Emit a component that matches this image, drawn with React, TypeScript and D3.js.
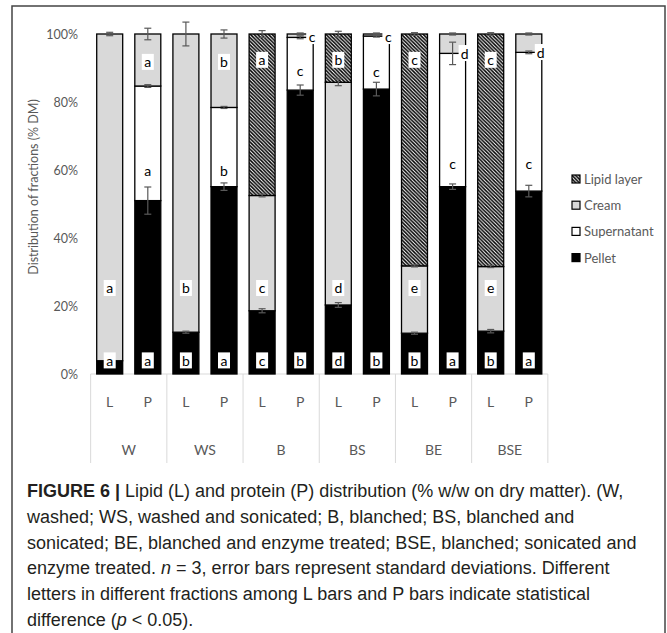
import * as d3 from 'd3';
import React from 'react';

// categories
const groups = ['W', 'WS', 'B', 'BS', 'BE', 'BSE'];
const kinds = ['L', 'P'];
const bars = groups.flatMap((g) => kinds.map((k) => `${g}|${k}`));
const fractions = ['Pellet', 'Supernatant', 'Cream', 'Lipid layer'];

// segment sizes (% DM), one per bar: W-L, W-P, WS-L, WS-P, ...
const pellet = [3.9, 51.0, 12.3, 55.1, 18.6, 83.5, 20.3, 83.8, 12.0, 55.1, 12.6, 53.8];
const supernatant = [0, 33.7, 0, 23.3, 0, 15.5, 0, 15.6, 0, 39.2, 0, 40.8];
const cream = [96.1, 15.3, 87.7, 21.6, 33.9, 1.0, 65.5, 0.6, 19.8, 5.7, 19.0, 5.4];
const lipid = [0, 0, 0, 0, 47.5, 0, 14.2, 0, 68.2, 0, 68.4, 0];

// standard deviations (drawn at the top of each segment)
const pelletSd = [0.3, 4.0, 0.3, 1.1, 0.6, 1.5, 0.7, 2.0, 0.3, 0.8, 0.5, 1.7];
const supernatantSd = [0, 0.4, 0, 0.3, 0, 0.4, 0, 0.3, 0, 3.3, 0, 0.4];
const creamSd = [0.5, 1.7, 3.5, 1.2, 0.4, 0.3, 1.0, 0.3, 0.3, 0.3, 0.3, 0.3];
const lipidSd = [0, 0, 0, 0, 1.0, 0, 0.8, 0, 0.4, 0, 0.4, 0];

// significance letters and where they sit (in % DM)
const letterPellet = ['a', 'a', 'b', 'a', 'c', 'b', 'd', 'b', 'b', 'a', 'b', 'a'];
const letterSuper = ['', 'a', '', 'b', '', 'c', '', 'c', '', 'c', '', 'c'];
const letterCream = ['a', 'a', 'b', 'b', 'c', 'c', 'd', 'c', 'e', 'd', 'e', 'd'];
const letterLipid = ['', '', '', '', 'a', '', 'b', '', 'c', '', 'c', ''];
const atPellet = [4, 4, 4, 4, 4, 4, 4, 4, 4, 4, 4, 4];
const atSuper = [0, 60, 0, 60, 0, 89.4, 0, 89.1, 0, 62, 0, 62];
const atCream = [25.3, 91.8, 25.3, 91.8, 25.3, 99.4, 25.3, 99.4, 25.3, 94.4, 25.3, 94.7];
const atLipid = [0, 0, 0, 0, 92.4, 0, 92.4, 0, 92.4, 0, 92.4, 0];
const creamOutside = [false, false, false, false, false, true, false, true, false, true, false, true];

const yTicks = [0, 20, 40, 60, 80, 100];

const captionLines = [
  [{ t: 'FIGURE 6 |', b: true }, { t: ' Lipid (L) and protein (P) distribution (% w/w on dry matter). (W,' }],
  [{ t: 'washed; WS, washed and sonicated; B, blanched; BS, blanched and' }],
  [{ t: 'sonicated; BE, blanched and enzyme treated; BSE, blanched; sonicated and' }],
  [{ t: 'enzyme treated. ' }, { t: 'n', i: true }, { t: ' = 3, error bars represent standard deviations. Different' }],
  [{ t: 'letters in different fractions among L bars and P bars indicate statistical' }],
  [{ t: 'difference (' }, { t: 'p', i: true }, { t: ' < 0.05).' }],
];

const W = 667;
const H = 633;
const fills = { Pellet: '#000', Supernatant: '#fff', Cream: '#d9d9d9', 'Lipid layer': 'url(#hatch)' };
const axisGray = '#595959';
const font = 'Lato, "Open Sans", sans-serif';

export default function App() {
  const table = bars.map((b, i) => ({
    bar: b,
    Pellet: pellet[i],
    Supernatant: supernatant[i],
    Cream: cream[i],
    'Lipid layer': lipid[i],
  }));
  const sds = { Pellet: pelletSd, Supernatant: supernatantSd, Cream: creamSd, 'Lipid layer': lipidSd };
  const series = d3.stack().keys(fractions)(table as any);

  const x = d3.scaleBand().domain(bars).range([90.65, 547.85]).paddingInner(0.318).paddingOuter(0.159);
  const xg = d3.scaleBand().domain(groups).range([90.65, 547.85]);
  const y = d3.scaleLinear().domain([0, 100]).range([374, 34]);
  const bw = x.bandwidth();

  const labels: { cx: number; cy: number; t: string }[] = [];
  bars.forEach((b, i) => {
    const cx = x(b)! + bw / 2;
    if (letterPellet[i]) labels.push({ cx, cy: y(atPellet[i]), t: letterPellet[i] });
    if (letterSuper[i]) labels.push({ cx, cy: y(atSuper[i]), t: letterSuper[i] });
    if (letterCream[i])
      labels.push({ cx: creamOutside[i] ? x(b)! + bw - 1 : cx, cy: y(atCream[i]), t: letterCream[i] });
    if (letterLipid[i]) labels.push({ cx, cy: y(atLipid[i]), t: letterLipid[i] });
  });

  return (
    <svg width={W} height={H} style={{ position: 'absolute', left: 0, top: 0, background: '#fff' }}>
      <defs>
        <pattern id="hatch" patternUnits="userSpaceOnUse" width="3.6" height="3.6">
          <rect width="3.6" height="3.6" fill="#fff" />
          <path d="M-1,-1 L4.6,4.6 M2.6,-1 L4.6,1 M-1,2.6 L1,4.6" stroke="#000" strokeWidth="1.5" />
        </pattern>
      </defs>
      <rect x={12} y={6} width={653} height={H + 10} fill="none" stroke="#444" strokeWidth={1.5} />

      {/* y axis */}
      {yTicks.map((t) => (
        <text key={t} x={78} y={y(t)} textAnchor="end" dominantBaseline="central" fontFamily={font} fontSize={12.5} fill={axisGray}>
          {t}%
        </text>
      ))}
      <text
        transform={`translate(33,187) rotate(-90)`}
        textAnchor="middle"
        dominantBaseline="central"
        fontFamily={font}
        fontSize={12.5}
        fill={axisGray}
      >
        Distribution of fractions (% DM)
      </text>

      {/* x axis */}
      <line x1={90.65} x2={547.85} y1={y(0)} y2={y(0)} stroke="#d9d9d9" strokeWidth={1} />
      {[...groups.map((g) => xg(g)!), 547.85].map((gx, i) => (
        <line key={i} x1={gx} x2={gx} y1={y(0)} y2={463} stroke="#d9d9d9" strokeWidth={1} />
      ))}
      {bars.map((b) => (
        <text key={b} x={x(b)! + bw / 2} y={401} textAnchor="middle" dominantBaseline="central" fontFamily={font} fontSize={14} fill={axisGray}>
          {b.split('|')[1]}
        </text>
      ))}
      {groups.map((g) => (
        <text key={g} x={xg(g)! + xg.bandwidth() / 2} y={449} textAnchor="middle" dominantBaseline="central" fontFamily={font} fontSize={14} fill={axisGray}>
          {g}
        </text>
      ))}

      {/* stacked bars */}
      {series.map((s) => (
        <g key={s.key}>
          {s.map((d: any, i) =>
            d[1] - d[0] > 0 ? (
              <rect
                key={i}
                x={x(bars[i])}
                y={y(d[1])}
                width={bw}
                height={y(d[0]) - y(d[1])}
                fill={fills[s.key as keyof typeof fills]}
                stroke="#000"
                strokeWidth={1.3}
              />
            ) : null
          )}
        </g>
      ))}

      {/* error bars */}
      {series.map((s) => (
        <g key={s.key} stroke={axisGray} strokeWidth={1.2}>
          {s.map((d: any, i) => {
            const sd = sds[s.key as keyof typeof sds][i];
            if (!(d[1] - d[0] > 0) || !sd) return null;
            const cx = x(bars[i])! + bw / 2;
            const y1 = y(d[1] + sd);
            const y2 = y(d[1] - sd);
            return (
              <g key={i}>
                <line x1={cx} x2={cx} y1={y1} y2={y2} />
                <line x1={cx - 3.5} x2={cx + 3.5} y1={y1} y2={y1} />
                <line x1={cx - 3.5} x2={cx + 3.5} y1={y2} y2={y2} />
              </g>
            );
          })}
        </g>
      ))}

      {/* letters */}
      {labels.map((l, i) => (
        <g key={i}>
          <rect x={l.cx - 6} y={l.cy - 8} width={12} height={16} fill="#fff" />
          <text x={l.cx} y={l.cy} textAnchor="middle" dominantBaseline="central" fontFamily={font} fontSize={14} fill="#000">
            {l.t}
          </text>
        </g>
      ))}

      {/* legend */}
      {[...fractions].reverse().map((f, i) => (
        <g key={f} transform={`translate(572,${179 + i * 26.2})`}>
          <rect x={0} y={-4} width={8} height={8} fill={fills[f as keyof typeof fills]} stroke="#000" strokeWidth={1.2} />
          <text x={12} y={0} dominantBaseline="central" fontFamily={font} fontSize={13} fill={axisGray}>
            {f}
          </text>
        </g>
      ))}

      {/* caption */}
      {captionLines.map((line, i) => (
        <text
          key={i}
          x={27}
          y={497 + i * 25.8}
          fontFamily='"Liberation Sans", Arial, sans-serif'
          fontSize={18}
          fill="#231f20"
        >
          {line.map((p: any, j) => (
            <tspan key={j} fontWeight={p.b ? 'bold' : undefined} fontStyle={p.i ? 'italic' : undefined}>
              {p.t}
            </tspan>
          ))}
        </text>
      ))}
    </svg>
  );
}
